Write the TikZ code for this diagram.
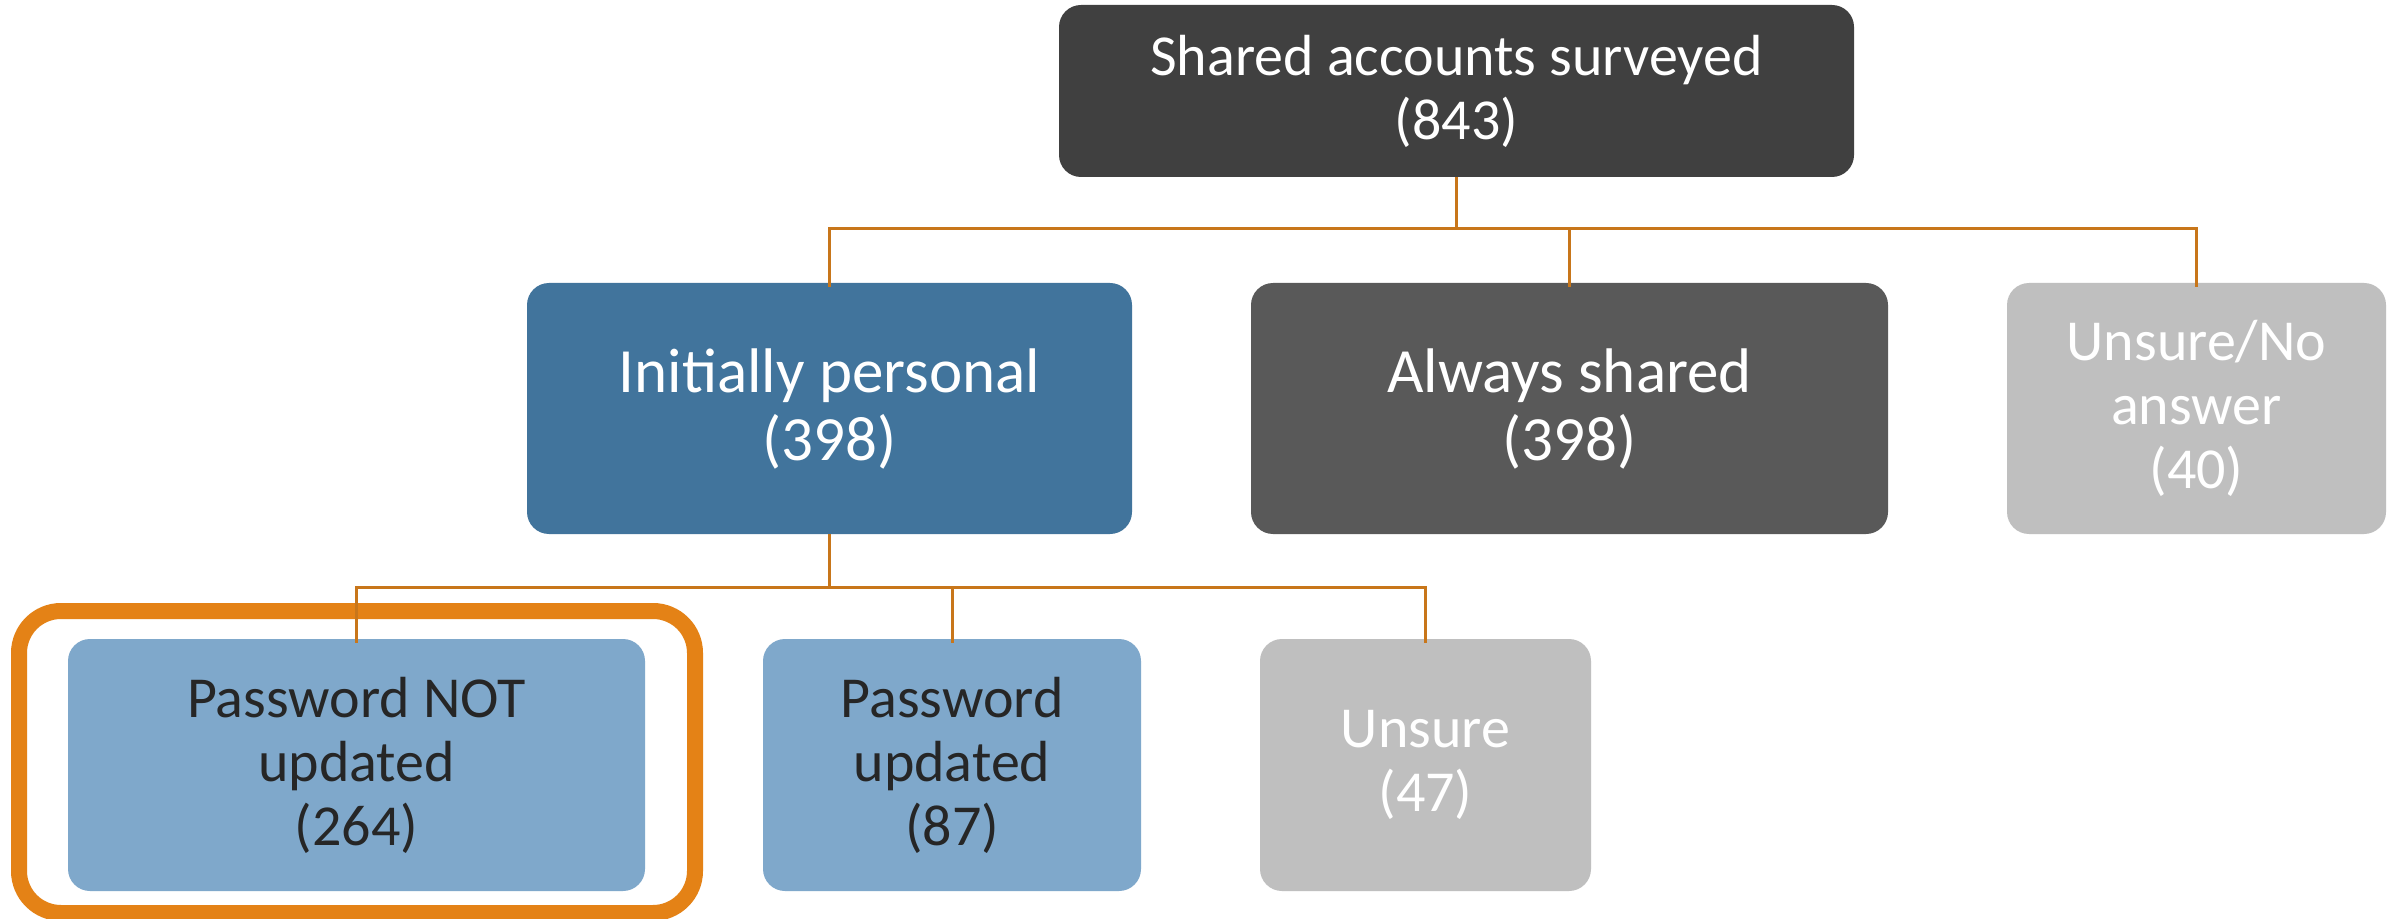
\documentclass[tikz,border=0pt]{standalone}
\usepackage{fontspec}
\setmainfont{Carlito}
\definecolor{topc}{RGB}{64,64,64}
\definecolor{ipc}{RGB}{65,116,156}
\definecolor{asc}{RGB}{89,89,89}
\definecolor{grc}{RGB}{191,191,191}
\definecolor{lbc}{RGB}{127,168,203}
\definecolor{conc}{RGB}{200,118,26}
\definecolor{hlc}{RGB}{228,130,22}
\definecolor{dtxt}{RGB}{38,38,38}
\begin{document}
\begin{tikzpicture}[x=0.5pt,y=-0.5pt,
  box/.style={rectangle, rounded corners=11pt, inner sep=0pt, align=center, text=white},
  small/.style={font=\fontsize{29}{32}\selectfont},
  big/.style={font=\fontsize{31.5}{34}\selectfont},
  conn/.style={draw=conc, line width=1.5pt},
  hl/.style={draw=hlc, line width=8pt, rounded corners=21pt, inner sep=0pt}]
\useasboundingbox[fill=white] (0,0) rectangle (2402,919);
% highlight ring
\node[hl, minimum width=338pt, minimum height=151pt] (ring) at (357,762) {};
% boxes
\node[box, small, fill=topc, minimum width=397.5pt, minimum height=86pt] (top) at (1456.5,91) {Shared accounts surveyed\\(843)};
\node[box, big, fill=ipc, minimum width=302.5pt, minimum height=125.5pt] (ip) at (829.5,408.5) {Initially personal\\(398)};
\node[box, big, fill=asc, minimum width=318.5pt, minimum height=125.5pt] (as) at (1569.5,408.5) {Always shared\\(398)};
\node[box, small, fill=grc, minimum width=189.5pt, minimum height=125.5pt] (un) at (2196.5,408.5) {Unsure/No\\answer\\(40)};
\node[box, small, fill=lbc, text=dtxt, minimum width=288.5pt, minimum height=126pt] (pnu) at (356.5,765) {Password NOT\\updated\\(264)};
\node[box, small, fill=lbc, text=dtxt, minimum width=189pt, minimum height=126pt] (pu) at (952,765) {Password\\updated\\(87)};
\node[box, small, fill=grc, minimum width=165.5pt, minimum height=126pt] (us) at (1425.5,765) {Unsure\\(47)};
% connectors level 1
\coordinate (b1) at (0,229);
\draw[conn] (top.south) -- (top.south |- b1);
\draw[conn] ([yshift=-2pt]ip.north) -- (ip.north |- b1) -- (un.north |- b1) -- ([yshift=-2pt]un.north);
\draw[conn] ([yshift=-2pt]as.north) -- (as.north |- b1);
% connectors level 2
\coordinate (b2) at (0,587);
\draw[conn] (ip.south) -- (ip.south |- b2);
\draw[conn] ([yshift=-2pt]pnu.north) -- (pnu.north |- b2) -- (us.north |- b2) -- ([yshift=-2pt]us.north);
\draw[conn] ([yshift=-2pt]pu.north) -- (pu.north |- b2);
\end{tikzpicture}
\end{document}
